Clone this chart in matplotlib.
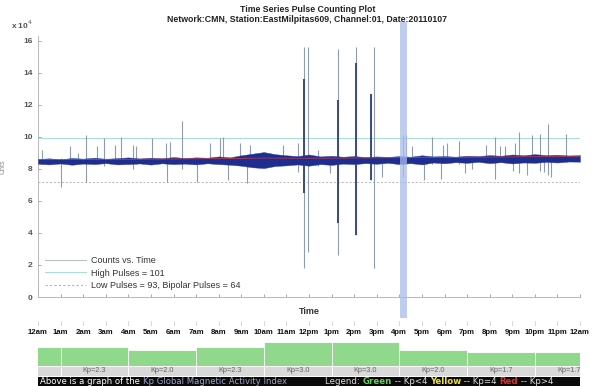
import matplotlib
matplotlib.use("Agg")
import matplotlib.pyplot as plt
import matplotlib.transforms as mtransforms
from matplotlib.patches import Rectangle
import numpy as np

plt.rcParams['font.family'] = ['Liberation Sans', 'DejaVu Sans']

# ---- data (counts, in units of 10^4) ----
band_hours = np.arange(0, 24.5, 0.5)
band_top = [8.62, 8.66, 8.60, 8.68, 8.64, 8.70, 8.63, 8.67, 8.72, 8.65, 8.70, 8.66, 8.74,
            8.68, 8.72, 8.70, 8.78, 8.72, 8.85, 8.95, 9.05, 8.92, 8.85, 8.80, 8.90, 8.78,
            8.82, 8.76, 8.80, 8.74, 8.78, 8.75, 8.80, 8.76, 8.85, 8.78, 8.80, 8.76, 8.82,
            8.80, 8.86, 8.82, 8.90, 8.85, 8.92, 8.86, 8.88, 8.84, 8.86]
band_bot = [8.32, 8.28, 8.34, 8.26, 8.33, 8.30, 8.36, 8.28, 8.30, 8.34, 8.27, 8.35, 8.30,
            8.33, 8.28, 8.35, 8.30, 8.26, 8.20, 8.10, 8.05, 8.18, 8.22, 8.28, 8.20, 8.30,
            8.25, 8.33, 8.30, 8.36, 8.32, 8.38, 8.30, 8.36, 8.28, 8.40, 8.35, 8.42, 8.38,
            8.44, 8.36, 8.42, 8.34, 8.40, 8.38, 8.44, 8.40, 8.46, 8.45]
mean_hours = list(range(25))
mean_vals = [8.58, 8.58, 8.59, 8.60, 8.60, 8.61, 8.62, 8.63, 8.64, 8.66, 8.68, 8.67, 8.67,
             8.67, 8.68, 8.69, 8.70, 8.71, 8.72, 8.73, 8.74, 8.75, 8.76, 8.76, 8.76]

# pulses: hour, top, bottom
spike_hr = [0.18, 1.02, 1.42, 1.77, 2.12, 2.61, 2.92, 3.41, 3.67, 4.20, 4.34, 5.04, 5.66,
            5.71, 5.84, 6.37, 7.04, 7.61, 8.05, 8.19, 8.41, 8.94, 9.25, 9.38, 10.84, 11.50,
            11.77, 11.95, 12.40, 12.92, 13.27, 14.07, 14.73, 14.87, 15.22, 16.15, 16.28,
            16.55, 17.08, 17.43, 17.83, 17.92, 18.10, 18.63, 18.89, 19.20, 19.82, 20.22,
            20.44, 20.70, 21.02, 21.10, 21.28, 21.64, 21.86, 22.21, 22.39, 22.57, 22.70, 23.40]
spike_hi = [9.2, 8.7, 9.4, 9.0, 10.1, 9.4, 9.9, 9.5, 10.0, 9.5, 9.4, 9.9, 9.6,
            8.7, 9.7, 11.0, 8.6, 9.6, 9.9, 10.0, 8.6, 9.6, 8.6, 9.5, 9.5, 9.6,
            15.6, 15.6, 9.2, 8.7, 15.5, 15.6, 12.7, 15.6, 8.7, 10.1, 10.1,
            9.4, 8.7, 10.0, 8.7, 9.5, 9.6, 9.75, 8.7, 8.7, 9.5, 10.0,
            9.4, 9.4, 8.7, 9.6, 10.3, 8.7, 10.1, 10.2, 8.7, 10.8, 8.7, 10.2]
spike_lo = [8.3, 6.9, 8.4, 8.3, 7.2, 8.3, 8.2, 8.4, 8.4, 8.0, 8.3, 8.4, 8.3,
            7.2, 8.3, 8.0, 7.2, 8.4, 8.4, 8.3, 7.3, 8.3, 7.1, 8.2, 8.4, 7.8,
            1.8, 2.8, 8.2, 7.75, 2.6, 3.9, 7.3, 1.8, 7.5, 7.5, 8.3,
            8.4, 7.3, 8.3, 7.4, 8.4, 8.4, 8.3, 7.75, 8.0, 8.4, 7.4,
            8.4, 8.4, 7.9, 8.4, 7.75, 7.6, 8.4, 7.9, 7.8, 7.6, 7.5, 8.4]
core_hr = [11.77, 13.27, 14.07, 14.73]
core_hi = [13.6, 12.3, 14.6, 12.7]
core_lo = [6.5, 4.6, 3.9, 7.3]

high_thresh = 9.9
low_thresh = 7.2
marker_hr = (16.03, 16.34)

hour_labels = ['12am', '1am', '2am', '3am', '4am', '5am', '6am', '7am', '8am', '9am', '10am',
               '11am', '12pm', '1pm', '2pm', '3pm', '4pm', '5pm', '6pm', '7pm', '8pm', '9pm',
               '10pm', '11pm', '12am']

kp_start = [-2, 1, 4, 7, 10, 13, 16, 19, 22]
kp_vals = [2.3, 2.3, 2.0, 2.3, 3.0, 3.0, 2.0, 1.7, 1.7]

W, H = 599, 386
fig = plt.figure(figsize=(W / 100, H / 100), dpi=100)
fig.patch.set_facecolor('white')

ax = fig.add_axes([38 / W, 1 - 297 / H, 542 / W, 261 / H])
ax.set_xlim(0, 24)
ax.set_ylim(0, 16.3)

# thresholds
ax.axhline(high_thresh, color='#a8dede', lw=0.8, zorder=1)
ax.axhline(low_thresh, color='#b5b5b5', lw=0.7, ls=(0, (2, 2)), zorder=1)

# pulses
ax.vlines(spike_hr, spike_lo, spike_hi, color='#8e9bb0', lw=0.8, zorder=2)
ax.vlines(core_hr, core_lo, core_hi, color='#3a4a80', lw=1.4, zorder=3)

# count trace
ax.fill_between(band_hours, band_bot, band_top, color='#1f2d8e', lw=0.3,
                edgecolor='#2a3fb0', zorder=4)
ax.plot(mean_hours, mean_vals, color='#d04040', lw=0.5, zorder=5)

# current-time marker band
ax.axvspan(marker_hr[0], marker_hr[1], ymin=-21 / 261, ymax=275 / 261,
           color='#a9bdea', alpha=0.75, lw=0, clip_on=False, zorder=6)

for s in ['top', 'right']:
    ax.spines[s].set_visible(False)
for s in ['left', 'bottom']:
    ax.spines[s].set_color('#b8b8b8')
    ax.spines[s].set_linewidth(0.7)
ax.set_xticks(range(25))
ax.set_xticklabels([])
ax.set_yticks(range(0, 17, 2))
ax.tick_params(axis='both', direction='in', length=2.5, color='#999999', width=0.6,
               labelsize=6, labelcolor='#555555', pad=4)
ax.tick_params(axis='x', length=2)
for lab in ax.get_yticklabels():
    lab.set_fontweight('bold')

ax.text(-0.05, 1.025, r'x 10$^4$', transform=ax.transAxes, fontsize=6,
        color='#555555', fontweight='bold')
ax.set_ylabel('Cnts', fontsize=5, color='#888888', labelpad=12)
ax.set_xlabel('Time', fontsize=6.5, color='#333333', fontweight='bold', labelpad=3)

fig.text(0.513, 1 - 10 / H, 'Time Series Pulse Counting Plot', ha='center', va='center',
         fontsize=6.3, fontweight='bold', color='#222222')
fig.text(0.513, 1 - 20 / H,
         'Network:CMN, Station:EastMilpitas609, Channel:01, Date:20110107',
         ha='center', va='center', fontsize=6.3, fontweight='bold', color='#222222')

# legend
h1, = ax.plot([], [], color='#b8c2c2', lw=0.8)
h2, = ax.plot([], [], color='#a8dede', lw=0.8)
h3, = ax.plot([], [], color='#b5b5b5', lw=0.8, ls=(0, (2, 2)))
ax.legend([h1, h2, h3], ['Counts vs. Time', 'High Pulses = 101',
                         'Low Pulses = 93, Bipolar Pulses = 64'],
          loc='lower left', bbox_to_anchor=(0.0, 0.0), frameon=False, fontsize=6.5,
          handlelength=4.5, handletextpad=0.6, labelspacing=0.35, labelcolor='#333333',
          borderaxespad=0.4)

# hour labels under the plot
trans = mtransforms.blended_transform_factory(ax.transData, fig.transFigure)
for i, lab in enumerate(hour_labels):
    ax.text(i, 1 - 333 / H, lab, transform=trans, ha='center', va='center', fontsize=5.6,
            fontweight='bold', color='#111111', clip_on=False)
    ax.plot([i, i], [1 - 321 / H, 1 - 325 / H], transform=trans, color='#d0d0d0',
            lw=0.6, clip_on=False)

# Kp strip
kx = fig.add_axes([38 / W, 0, 542 / W, 46 / H])
kx.set_xlim(0, 24)
kx.set_ylim(0, 46)
kx.axis('off')
for st, kp in zip(kp_start, kp_vals):
    kx.add_patch(Rectangle((st, 20.5), 3, kp * 8, facecolor='#8fd88c',
                           edgecolor='white', lw=0.6))
    kx.add_patch(Rectangle((st, 10), 3, 10, facecolor='#d9d9d9', edgecolor='white', lw=0.6))
    kx.text(st + 1.5, 15, 'Kp=%.1f' % kp, ha='center', va='center', fontsize=5.3,
            color='#666666', clip_on=True)
kx.add_patch(Rectangle((0, 0), 24, 9.5, facecolor='#0a0a0a', edgecolor='none'))

rend = fig.canvas.get_renderer()
px_per_hr = 542 / 24


def run_text(x0, parts, size):
    x = x0
    for txt, col, bold in parts:
        t = kx.text(x, 4.7, txt, ha='left', va='center', fontsize=size,
                    family='DejaVu Sans', color=col,
                    fontweight='bold' if bold else 'normal')
        x += t.get_window_extent(renderer=rend).width / px_per_hr


run_text(0.1, [('Above is a graph of the ', 'white', False),
               ('Kp Global Magnetic Activity Index', '#9aa6c8', False)], 6.1)
run_text(12.7, [('Legend: ', '#dddddd', False), ('Green', '#5fcf5f', True),
                (' -- Kp<4 ', '#dddddd', False), ('Yellow', '#f0e040', True),
                (' -- Kp=4 ', '#dddddd', False), ('Red', '#e03030', True),
                (' -- Kp>4', '#dddddd', False)], 6.2)

fig.savefig('out.png', dpi=100)
